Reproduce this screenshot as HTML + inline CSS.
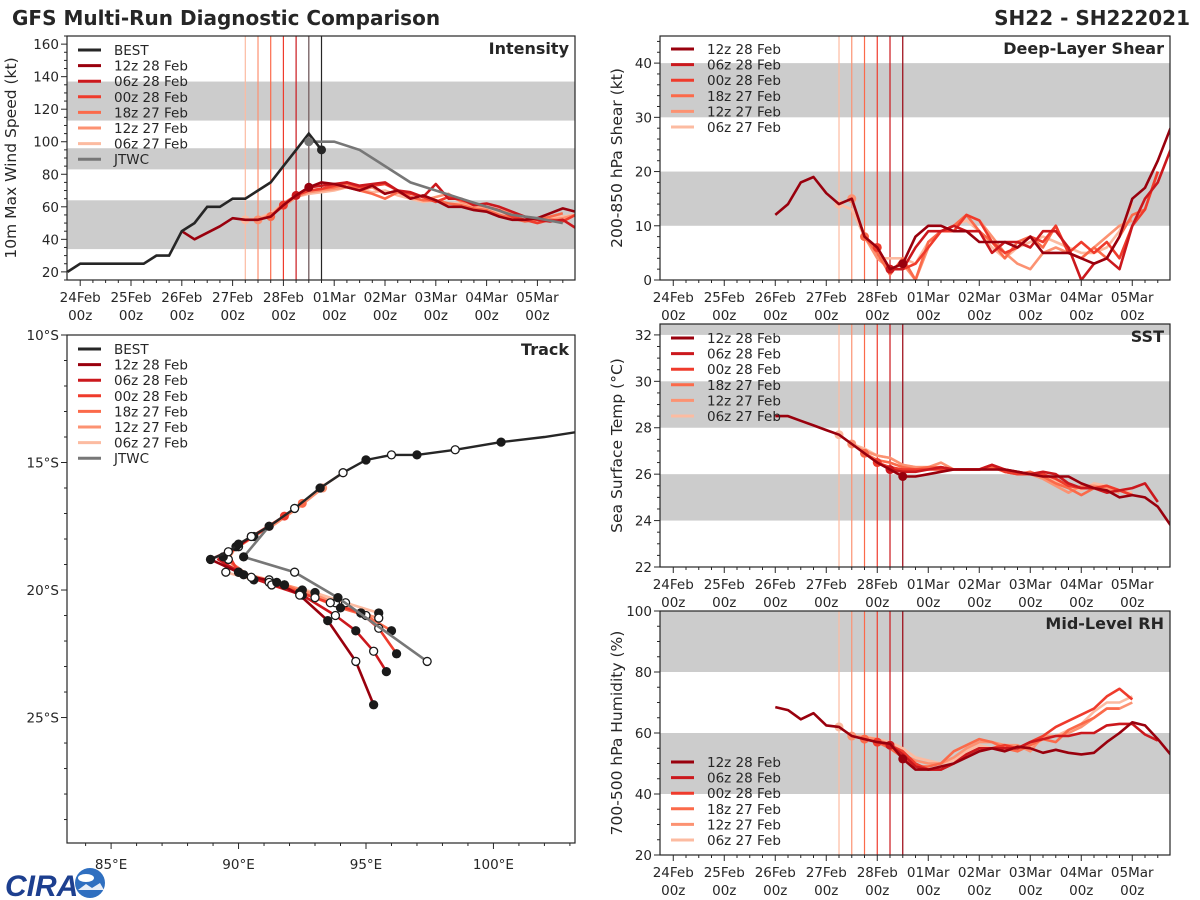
<!DOCTYPE html>
<html><head><meta charset="utf-8"><title>GFS Multi-Run Diagnostic Comparison</title>
<style>
html,body{margin:0;padding:0;background:#fff;}
svg{display:block;font-family:"DejaVu Sans","Liberation Sans",sans-serif;}
</style></head>
<body>
<svg id="fig" width="1200" height="900" viewBox="0 0 1200 900" xmlns="http://www.w3.org/2000/svg">
<text x="12" y="25" font-size="20" font-weight="bold" fill="#262626">GFS Multi-Run Diagnostic Comparison</text>
<text x="1190" y="25" font-size="20" font-weight="bold" fill="#262626" text-anchor="end">SH22 - SH222021</text>
<g>
<text x="5" y="896" font-size="30" font-weight="bold" fill="#1d3f8f" font-style="italic" font-family="Liberation Sans">CIRA</text>
<circle cx="90" cy="883" r="15" fill="#2f6fc0"/>
<ellipse cx="86" cy="878" rx="8" ry="4" fill="#fff"/>
<path d="M78 890 L86 884 L92 888 L100 883 L104 890 Z" fill="#e8eef8"/>
</g>
</svg>
<script>
// ---------- shared data ----------
const runNames = ["06z 27 Feb","12z 27 Feb","18z 27 Feb","00z 28 Feb","06z 28 Feb","12z 28 Feb"];
const runColors = ["#fcbba1","#fc9272","#fb6a4a","#ef3b2c","#cb181d","#99000d"];
const runInitDays = [3.25,3.5,3.75,4.0,4.25,4.5];
const dayLabels = ["24Feb","25Feb","26Feb","27Feb","28Feb","01Mar","02Mar","03Mar","04Mar","05Mar"];
const xDomain = [-0.26, 9.74];
const runStartDays = [3.25,3.5,3.75,4.0,4.25,2.0];

// Intensity (kt)
const intRuns = [
 [52,53,56,62,66,68,69,70,72,71,69,70,67,65,63,64,62,62,60,59,57,55,54,52,53,54,55],
 [52,55,60,66,69,70,71,72,70,72,68,70,66,64,66,68,63,61,60,58,56,54,52,52,53,55],
 [54,62,67,70,71,72,74,70,68,65,69,66,64,64,62,61,59,58,55,53,51,52,54,56],
 [61,67,70,71,73,75,72,73,74,70,68,66,63,66,64,62,60,58,54,52,50,52,51,55,57],
 [67,72,73,74,75,73,74,75,70,69,66,74,65,65,61,62,60,57,54,52,51,52,47,52,56],
 [45,40,44,48,53,52,52,54,61,67,72,75,74,72,70,73,68,70,65,67,64,60,60,58,57,54,52,52,53,56,59,57,55,54]
];
const bestStart = -0.25;
const bestKt = [20,25,25,25,25,25,25,30,30,45,50,60,60,65,65,70,75,85,95,105,95];
const jtwcDays = [4.5,4.75,5,5.5,6,6.5,7,7.5,8,8.5,9,9.5];
const jtwcKt = [100,100,100,95,85,75,70,65,60,55,53,50];

// Shear (kt)
const shearRuns = [
 [14,13,8,4,4,4,3,7,9,10,11,9,6,4,6,7,8,7,6,5,5,6,9,14],
 [15,8,4,2,3,0,6,9,10,12,11,8,5,3,2,5,6,5,4,6,8,10,11],
 [8,5,1,4,0,7,9,10,12,9,7,4,7,8,6,10,5,4,6,4,8,12,13,20],
 [6,2,2,3,6,9,9,12,11,7,5,6,8,7,10,5,7,5,7,4,10,13,20],
 [2,2,6,9,9,10,9,9,5,7,7,6,9,9,6,0,3,4,2,10,15,18,24],
 [12,14,18,19,16,14,15,8,6,2,3,8,10,10,9,9,7,7,7,6,8,5,5,5,4,3,4,8,15,17,22,28]
];
// SST (C)
const sstRuns = [
 [27.7,27.3,27.1,26.8,26.7,26.4,26.3,26.3,26.3,26.2,26.2,26.2,26.2,26.2,26.1,26.0,25.9,25.7,25.5,25.3,25.6,25.5,25.3,25.2],
 [27.3,27.0,26.8,26.7,26.4,26.3,26.3,26.5,26.2,26.2,26.2,26.3,26.1,26.0,26.0,25.8,25.5,25.2,25.5,25.5,25.4,25.2],
 [26.9,26.6,26.5,26.3,26.2,26.3,26.3,26.2,26.2,26.2,26.3,26.1,26.0,26.1,25.9,25.6,25.4,25.1,25.4,25.5,25.3,25.1],
 [26.5,26.3,26.2,26.2,26.2,26.2,26.2,26.2,26.2,26.4,26.1,26.0,26.0,26.0,25.8,25.5,25.4,25.4,25.5,25.3,25.1],
 [26.2,26.1,26.1,26.2,26.3,26.2,26.2,26.2,26.4,26.2,26.1,26.0,26.1,26.0,25.6,25.4,25.4,25.2,25.3,25.4,25.6,24.8],
 [28.5,28.5,28.3,28.1,27.9,27.7,27.3,26.9,26.5,26.2,25.9,25.9,26.0,26.1,26.2,26.2,26.2,26.2,26.2,26.1,26.0,25.9,25.9,25.9,25.6,25.4,25.3,25.0,25.1,25.0,24.6,23.8,23.5]
];
// Mid-level RH (%)
const rhRuns = [
 [62,59,59,58,57,55,52,51,50,51,54,56,55,56,55,55,58,59,61,63,67,70,70,72],
 [59,58.5,58,56,53,51,50,50,52,55,57,57,56,56,54,59,59,60,62,65,68,68,70],
 [58,57,55,52,49,49,50,54,56,58,57,55,54,56,58,57,61,63,65,68,68],
 [57,56,54,50,48,48,50,53,55,55,56,55,57,59,62,64,66,68,72,74.5,71],
 [56,53,49,48,48,50,53,55,55,55,55,57,58,59,59,60,60,62.5,63,63,59.5,57.5],
 [68.5,67.5,64.5,66.5,62.5,62,59,58,57,56.5,51.5,48,48,49,50,52,54,55,54,55.5,55,53.5,54.5,53.5,53,53.5,57,60,63.5,62.5,58,53]
];

// Track (lon E, lat S)
const bestLon = [103.3,102,100.3,98.5,97.0,96.0,95.0,94.1,93.2,92.2,91.2,90.5,90.0,89.6,88.9];
const bestLat = [13.8,14.0,14.2,14.5,14.7,14.7,14.9,15.4,16.0,16.8,17.5,17.9,18.2,18.5,18.8];
const trackLon = [
 [94.1,93.2,92.3,91.3,90.6,90.0,89.5,89.5,90.6,91.8,93.0,94.2,95.5],
 [93.3,92.3,91.3,90.5,89.9,89.6,90.0,91.2,92.5,93.8,94.8,95.5],
 [92.5,91.5,90.6,90.0,89.4,90.5,91.8,93.0,94.0,95.0,96.0],
 [91.8,91.0,90.2,89.6,90.0,91.2,92.4,93.6,94.8,95.5,96.2],
 [91.2,90.4,89.8,89.2,90.2,91.3,92.5,93.8,94.6,95.3,95.8],
 [90.5,89.8,88.9,90.2,91.5,92.4,93.5,94.6,95.3]
];
const trackLat = [
 [15.4,16.0,16.8,17.5,17.9,18.3,18.7,19.3,19.6,19.8,20.1,20.5,20.9],
 [16.0,16.8,17.5,17.9,18.3,18.8,19.3,19.6,20.0,20.5,20.9,21.1],
 [16.6,17.3,17.9,18.3,18.7,19.5,19.8,20.3,20.7,21.0,21.6],
 [17.1,17.6,18.1,18.6,19.3,19.7,20.1,20.5,20.9,21.5,22.5],
 [17.5,18.0,18.4,18.8,19.4,19.8,20.2,21.0,21.6,22.4,23.2],
 [17.9,18.4,18.8,19.4,19.7,20.2,21.2,22.8,24.5]
];
const jtwcLon = [91.2,90.2,92.2,93.9,97.4];
const jtwcLat = [17.5,18.7,19.3,20.3,22.8];
const lonTicks = [85,90,95,100];
const latTicks = [10,15,20,25];

// ---------- drawing ----------
const NS = "http://www.w3.org/2000/svg";
const svg = document.getElementById("fig");
function el(tag, attrs, parent) {
  const e = document.createElementNS(NS, tag);
  for (const k in attrs) e.setAttribute(k, attrs[k]);
  (parent || svg).appendChild(e);
  return e;
}
let clipId = 0;
const FS = 13.5;

function panelFrame(p, name) {
  const g = el("g", {});
  
  
  const cid = "clip" + (clipId++);
  const cp = el("clipPath", {id: cid}, g);
  el("rect", {x: p.x0, y: p.y0, width: p.x1 - p.x0, height: p.y1 - p.y0}, cp);
  const inner = el("g", {"clip-path": "url(#" + cid + ")"}, g);
  return {g, inner};
}

function drawTS(p) {
  const {g, inner} = panelFrame(p, p.name);
  const X = d => p.x0 + (d - xDomain[0]) / (xDomain[1] - xDomain[0]) * (p.x1 - p.x0);
  const Y = v => p.y1 - (v - p.ymin) / (p.ymax - p.ymin) * (p.y1 - p.y0);
  p.bands.forEach(b => {
    const r = el("rect", {x: p.x0, y: Y(b[1]), width: p.x1 - p.x0, height: Y(b[0]) - Y(b[1]), fill: "#cccccc"}, inner);
    
    
  });
  runInitDays.forEach((d, i) => {
    const l = el("line", {x1: X(d), x2: X(d), y1: p.y0, y2: p.y1, stroke: runColors[i], "stroke-width": 1.2}, inner);
    
    
  });
  if (p.extraV) p.extraV.forEach(v => {
    const l = el("line", {x1: X(v[0]), x2: X(v[0]), y1: p.y0, y2: p.y1, stroke: v[1], "stroke-width": 1.2}, inner);
    
    
  });
  p.runs.forEach((vals, i) => {
    const s = runStartDays[i];
    const pts = vals.map((v, k) => X(s + k * 0.25).toFixed(1) + "," + Y(v).toFixed(1)).join(" ");
    const pl = el("polyline", {points: pts, fill: "none", stroke: runColors[i], "stroke-width": 2.6, "stroke-linejoin": "round"}, inner);
    
    
    const k0 = Math.round((runInitDays[i] - s) / 0.25);
    const c = el("circle", {cx: X(runInitDays[i]), cy: Y(vals[k0]), r: 4.5, fill: runColors[i]}, inner);
    
    
  });
  if (p.extra) p.extra(inner, X, Y);
  const fr = el("rect", {x: p.x0, y: p.y0, width: p.x1 - p.x0, height: p.y1 - p.y0, fill: "none", stroke: "#262626", "stroke-width": 1.2}, g);
  
  
  for (let q = 0; q <= 39; q++) {
    const d = q * 0.25;
    const x = X(d);
    if (x > p.x1) break;
    const major = q % 4 === 0;
    el("line", {x1: x, x2: x, y1: p.y1, y2: p.y1 + (major ? 6 : 3), stroke: "#262626", "stroke-width": 1}, g);
  }
  dayLabels.forEach((lab, i) => {
    const t1 = el("text", {x: X(i), y: p.y1 + 22, "font-size": FS, fill: "#262626", "text-anchor": "middle"}, g);
    t1.textContent = lab;
    
    
    const t2 = el("text", {x: X(i), y: p.y1 + 40, "font-size": FS, fill: "#262626", "text-anchor": "middle"}, g);
    t2.textContent = "00z";
    
    
  });
  for (let v = p.ymin; v <= p.ymax + 1e-6; v += p.minor) {
    const y = Y(v);
    if (y < p.y0 - 0.5) break;
    const isMajor = Math.abs(((v - p.tickStart) / p.major) - Math.round((v - p.tickStart) / p.major)) < 1e-6 && v >= p.tickStart;
    el("line", {x1: p.x0, x2: p.x0 - (isMajor ? 6 : 3), y1: y, y2: y, stroke: "#262626", "stroke-width": 1}, g);
    if (isMajor) {
      const t = el("text", {x: p.x0 - 8, y: y + 5, "font-size": FS, fill: "#262626", "text-anchor": "end"}, g);
      t.textContent = String(Math.round(v));
      
      
    }
  }
  const yl = el("text", {x: 0, y: 0, "font-size": 15.5, fill: "#262626", "text-anchor": "middle", transform: "translate(" + p.ylx + "," + ((p.y0 + p.y1) / 2) + ") rotate(-90)"}, g);
  yl.textContent = p.ylabel;
  
  
  const tt = el("text", {x: p.x1 - 6, y: p.y0 + 18, "font-size": 16, "font-weight": "bold", fill: "#262626", "text-anchor": "end"}, g);
  tt.textContent = p.title;
  
  
  drawLegend(g, p.x0 + 11, p.legY, p.legend);
}

function drawLegend(g, x, y, entries) {
  const lg = el("g", {}, g);
  
  
  entries.forEach((e, i) => {
    const yy = y + i * 15.6;
    const ln = el("line", {x1: x, x2: x + 23, y1: yy, y2: yy, stroke: e[1], "stroke-width": 3}, lg);
    
    
    const t = el("text", {x: x + 36, y: yy + 5, "font-size": FS, fill: "#262626"}, lg);
    t.textContent = e[0];
    
    
  });
}

const runLegend = [5,4,3,2,1,0].map(i => [runNames[i], runColors[i]]);

drawTS({name: "intensity-panel", x0: 67, x1: 575, y0: 36, y1: 280, ymin: 15, ymax: 165, tickStart: 20, major: 20, minor: 5,
  bands: [[34, 64], [83, 96], [113, 137]], runs: intRuns, ylabel: "10m Max Wind Speed (kt)", ylx: 16, title: "Intensity",
  extraV: [[4.5, "#777777"], [4.75, "#262626"]],
  legY: 50, legend: [["BEST", "#262626"]].concat(runLegend, [["JTWC", "#777777"]]),
  extra: (inner, X, Y) => {
    const jp = jtwcDays.map((d, k) => X(d).toFixed(1) + "," + Y(jtwcKt[k]).toFixed(1)).join(" ");
    const jl = el("polyline", {points: jp, fill: "none", stroke: "#777777", "stroke-width": 2.6}, inner);
    
    
    const bp = bestKt.map((v, k) => X(bestStart + k * 0.25).toFixed(1) + "," + Y(v).toFixed(1)).join(" ");
    const bl = el("polyline", {points: bp, fill: "none", stroke: "#262626", "stroke-width": 2.6}, inner);
    
    
    const jc = el("circle", {cx: X(jtwcDays[0]), cy: Y(jtwcKt[0]), r: 4.5, fill: "#777777"}, inner);
    
    
    const bc = el("circle", {cx: X(bestStart + (bestKt.length - 1) * 0.25), cy: Y(bestKt[bestKt.length - 1]), r: 4.5, fill: "#262626"}, inner);
    
    
  }});

drawTS({name: "shear-panel", x0: 660, x1: 1170, y0: 36, y1: 280, ymin: 0, ymax: 45, tickStart: 0, major: 10, minor: 2,
  bands: [[10, 20], [30, 40]], runs: shearRuns, ylabel: "200-850 hPa Shear (kt)", ylx: 622, title: "Deep-Layer Shear",
  legY: 49, legend: runLegend});

drawTS({name: "sst-panel", x0: 660, x1: 1170, y0: 324, y1: 567, ymin: 22, ymax: 32.47, tickStart: 22, major: 2, minor: 0.5,
  bands: [[24, 26], [28, 30], [32, 33]], runs: sstRuns, ylabel: "Sea Surface Temp (°C)", ylx: 622, title: "SST",
  legY: 338, legend: runLegend});

drawTS({name: "rh-panel", x0: 660, x1: 1170, y0: 611, y1: 855, ymin: 20, ymax: 100, tickStart: 20, major: 20, minor: 5,
  bands: [[40, 60], [80, 100]], runs: rhRuns, ylabel: "700-500 hPa Humidity (%)", ylx: 622, title: "Mid-Level RH",
  legY: 762, legend: runLegend});

(function () {
  const p = {x0: 67, x1: 575, y0: 335, y1: 843};
  const lonMin = 83.27, lonMax = 103.2, latTop = 10, latBot = 29.92;
  const X = lon => p.x0 + (lon - lonMin) / (lonMax - lonMin) * (p.x1 - p.x0);
  const Y = lat => p.y0 + (lat - latTop) / (latBot - latTop) * (p.y1 - p.y0);
  const {g, inner} = panelFrame(p, "track-panel");
  function dots(lons, lats, parent) {
    lons.forEach((lo, k) => {
      if (k === 0) return;
      const c = el("circle", {cx: X(lo), cy: Y(lats[k]), r: 4, fill: k % 2 ? "#1a1a1a" : "#ffffff", stroke: "#1a1a1a", "stroke-width": 1.3}, parent);
      
      
    });
  }
  trackLon.forEach((lons, i) => {
    const pts = lons.map((lo, k) => X(lo).toFixed(1) + "," + Y(trackLat[i][k]).toFixed(1)).join(" ");
    const pl = el("polyline", {points: pts, fill: "none", stroke: runColors[i], "stroke-width": 2.6, "stroke-linejoin": "round"}, inner);
    
    
    const c0 = el("circle", {cx: X(lons[0]), cy: Y(trackLat[i][0]), r: 4.5, fill: runColors[i]}, inner);
    
    
  });
  trackLon.forEach((lons, i) => dots(lons.slice(3), trackLat[i].slice(3), inner));
  const jp = jtwcLon.map((lo, k) => X(lo).toFixed(1) + "," + Y(jtwcLat[k]).toFixed(1)).join(" ");
  const jl = el("polyline", {points: jp, fill: "none", stroke: "#777777", "stroke-width": 2.6}, inner);
  
  
  dots(jtwcLon, jtwcLat, inner);
  const bp = bestLon.map((lo, k) => X(lo).toFixed(1) + "," + Y(bestLat[k]).toFixed(1)).join(" ");
  const bl = el("polyline", {points: bp, fill: "none", stroke: "#262626", "stroke-width": 2.4}, inner);
  
  
  dots(bestLon.slice(1), bestLat.slice(1), inner);
  const fr = el("rect", {x: p.x0, y: p.y0, width: p.x1 - p.x0, height: p.y1 - p.y0, fill: "none", stroke: "#262626", "stroke-width": 1.2}, g);
  
  
  for (let lo = 84; lo <= 103; lo++) {
    const major = lonTicks.indexOf(lo) >= 0;
    el("line", {x1: X(lo), x2: X(lo), y1: p.y1, y2: p.y1 + (major ? 6 : 3), stroke: "#262626"}, g);
  }
  lonTicks.forEach(lo => {
    const t = el("text", {x: X(lo), y: p.y1 + 26, "font-size": FS, fill: "#262626", "text-anchor": "middle"}, g);
    t.textContent = lo + "°E";
    
    
  });
  for (let la = 10; la <= 29; la++) {
    const major = latTicks.indexOf(la) >= 0;
    el("line", {x1: p.x0, x2: p.x0 - (major ? 6 : 3), y1: Y(la), y2: Y(la), stroke: "#262626"}, g);
  }
  latTicks.forEach(la => {
    const t = el("text", {x: p.x0 - 8, y: Y(la) + 5, "font-size": FS, fill: "#262626", "text-anchor": "end"}, g);
    t.textContent = la + "°S";
    
    
  });
  const tt = el("text", {x: p.x1 - 6, y: p.y0 + 20, "font-size": 16, "font-weight": "bold", fill: "#262626", "text-anchor": "end"}, g);
  tt.textContent = "Track";
  
  
  drawLegend(g, p.x0 + 11, 349, [["BEST", "#262626"]].concat(runLegend, [["JTWC", "#777777"]]));
})();
</script>
</body></html>
